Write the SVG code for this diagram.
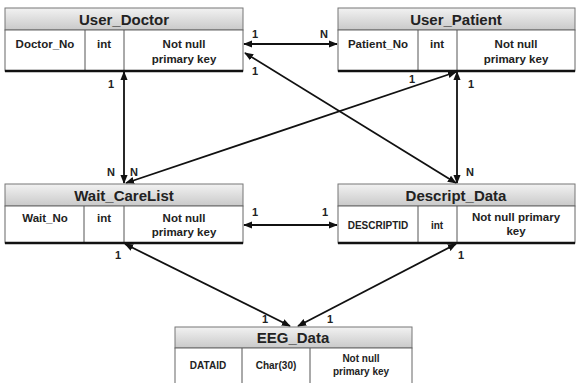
<svg xmlns="http://www.w3.org/2000/svg" width="576" height="383" viewBox="0 0 576 383">
<style>
.hd{fill:url(#g);stroke:#777;stroke-width:1}
.bd{fill:#fff;stroke:#666;stroke-width:1}
.dv{stroke:#555;stroke-width:1}
.bt{stroke:#111;stroke-width:2.5}
.t{font-family:"Liberation Sans",Arial,sans-serif;font-weight:bold;fill:#222;text-anchor:middle}
.h{font-size:15px}
.b{font-size:11.5px}
.s{font-size:10px}
.c{stroke:#111;stroke-width:1.8;fill:none}
.l{font-family:"Liberation Sans",Arial,sans-serif;font-weight:bold;font-size:11px;fill:#222}
</style>
<defs>
<linearGradient id="g" x1="0" y1="0" x2="0" y2="1">
<stop offset="0" stop-color="#f2f2f2"/>
<stop offset="1" stop-color="#c9c9c9"/>
</linearGradient>
<marker id="a" viewBox="0 0 10 10" refX="9" refY="5" markerWidth="5" markerHeight="5" orient="auto-start-reverse" markerUnits="strokeWidth">
<path d="M0,1L10,5L0,9z" fill="#111"/>
</marker>
</defs>
<g id="connectors">
<line class="c" x1="244" y1="44" x2="337" y2="44" marker-start="url(#a)" marker-end="url(#a)"/>
<line class="c" x1="124" y1="72" x2="124" y2="183" marker-start="url(#a)" marker-end="url(#a)"/>
<line class="c" x1="457" y1="72" x2="457" y2="183" marker-start="url(#a)" marker-end="url(#a)"/>
<line class="c" x1="245" y1="53" x2="456" y2="183" marker-start="url(#a)" marker-end="url(#a)"/>
<line class="c" x1="456" y1="72" x2="126" y2="183" marker-start="url(#a)" marker-end="url(#a)"/>
<line class="c" x1="244" y1="225" x2="337" y2="225" marker-start="url(#a)" marker-end="url(#a)"/>
<line class="c" x1="125" y1="244" x2="290" y2="326" marker-start="url(#a)" marker-end="url(#a)"/>
<line class="c" x1="456" y1="244" x2="298" y2="326" marker-start="url(#a)" marker-end="url(#a)"/>
<text class="l" x="252" y="38">1</text>
<text class="l" x="320" y="38">N</text>
<text class="l" x="252" y="75">1</text>
<text class="l" x="108" y="88">1</text>
<text class="l" x="107" y="176">N</text>
<text class="l" x="130" y="176">N</text>
<text class="l" x="409" y="83">1</text>
<text class="l" x="468" y="88">1</text>
<text class="l" x="466" y="176">N</text>
<text class="l" x="252" y="216">1</text>
<text class="l" x="322" y="216">1</text>
<text class="l" x="115" y="259">1</text>
<text class="l" x="458" y="259">1</text>
<text class="l" x="262" y="323">1</text>
<text class="l" x="327" y="323">1</text>
</g>
<g id="User_Doctor">
<rect class="hd" x="5" y="8" width="238" height="22"/>
<rect class="bd" x="5" y="30" width="238" height="41"/>
<line class="dv" x1="85" y1="30" x2="85" y2="71"/>
<line class="dv" x1="124" y1="30" x2="124" y2="71"/>
<line class="bt" x1="5" y1="71" x2="243" y2="71"/>
<text class="t h" x="124" y="25">User_Doctor</text>
<text class="t b" x="45" y="48">Doctor_No</text>
<text class="t b" x="104" y="48">int</text>
<text class="t b" x="184" y="48">Not null</text>
<text class="t b" x="184" y="63">primary key</text>
</g>
<g id="User_Patient">
<rect class="hd" x="338" y="8" width="237" height="22"/>
<rect class="bd" x="338" y="30" width="237" height="41"/>
<line class="dv" x1="418" y1="30" x2="418" y2="71"/>
<line class="dv" x1="457" y1="30" x2="457" y2="71"/>
<line class="bt" x1="338" y1="71" x2="575" y2="71"/>
<text class="t h" x="456" y="25">User_Patient</text>
<text class="t b" x="378" y="48">Patient_No</text>
<text class="t b" x="437" y="48">int</text>
<text class="t b" x="516" y="48">Not null</text>
<text class="t b" x="516" y="63">primary key</text>
</g>
<g id="Wait_CareList">
<rect class="hd" x="5" y="184" width="238" height="22"/>
<rect class="bd" x="5" y="206" width="238" height="37"/>
<line class="dv" x1="84" y1="206" x2="84" y2="243"/>
<line class="dv" x1="124" y1="206" x2="124" y2="243"/>
<line class="bt" x1="5" y1="243" x2="243" y2="243"/>
<text class="t h" x="124" y="201">Wait_CareList</text>
<text class="t b" x="45" y="222">Wait_No</text>
<text class="t b" x="104" y="222">int</text>
<text class="t b" x="184" y="222">Not null</text>
<text class="t b" x="184" y="236">primary key</text>
</g>
<g id="Descript_Data">
<rect class="hd" x="338" y="184" width="237" height="22"/>
<rect class="bd" x="338" y="206" width="237" height="37"/>
<line class="dv" x1="418" y1="206" x2="418" y2="243"/>
<line class="dv" x1="457" y1="206" x2="457" y2="243"/>
<line class="bt" x1="338" y1="243" x2="575" y2="243"/>
<text class="t h" x="456" y="201">Descript_Data</text>
<text class="t s" x="378" y="229">DESCRIPTID</text>
<text class="t s" x="437" y="229">int</text>
<text class="t b" x="516" y="221">Not null primary</text>
<text class="t b" x="516" y="235">key</text>
</g>
<g id="EEG_Data">
<rect class="hd" x="175" y="327" width="237" height="21"/>
<rect class="bd" x="175" y="348" width="237" height="36"/>
<line class="dv" x1="242" y1="348" x2="242" y2="383"/>
<line class="dv" x1="310" y1="348" x2="310" y2="383"/>
<text class="t h" x="293" y="343">EEG_Data</text>
<text class="t s" x="208" y="369">DATAID</text>
<text class="t s" x="276" y="369">Char(30)</text>
<text class="t s" x="361" y="362">Not null</text>
<text class="t s" x="361" y="375">primary key</text>
</g>
</svg>
